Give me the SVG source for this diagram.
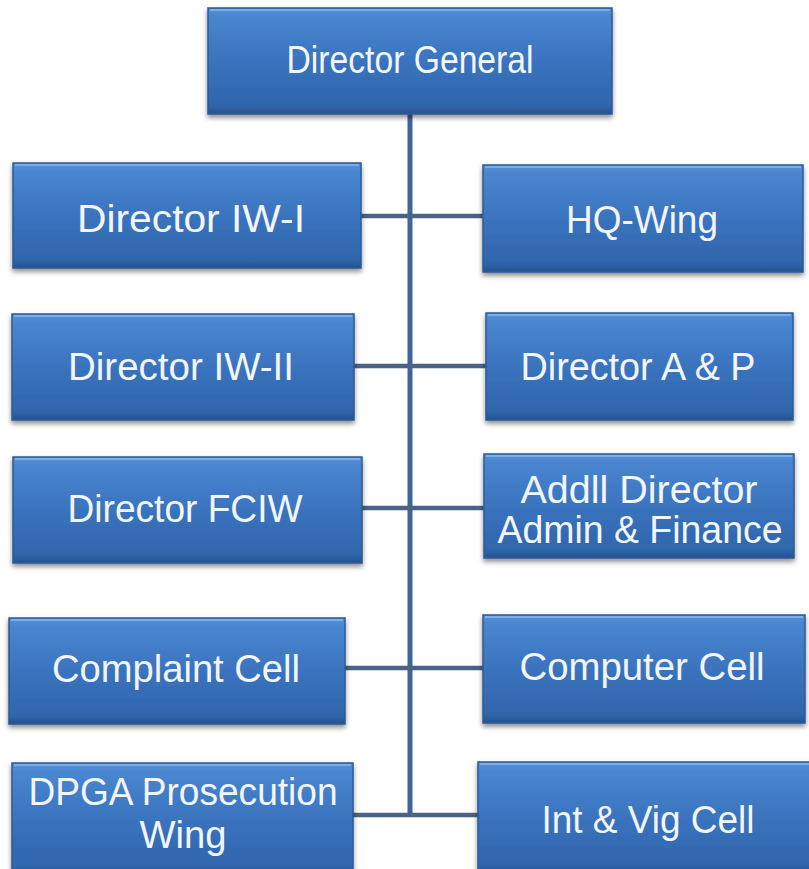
<svg xmlns="http://www.w3.org/2000/svg" width="809" height="869" viewBox="0 0 809 869">
<defs>
<linearGradient id="fill" x1="0" y1="0" x2="0" y2="1">
<stop offset="0" stop-color="#5690d6"/>
<stop offset="0.08" stop-color="#4a86d0"/>
<stop offset="0.5" stop-color="#3a73be"/>
<stop offset="0.92" stop-color="#2f66ac"/>
<stop offset="1" stop-color="#24528f"/>
</linearGradient>
<filter id="shadow" x="-5%" y="-10%" width="110%" height="130%">
<feDropShadow dx="0" dy="3" stdDeviation="2.5" flood-color="#000" flood-opacity="0.45"/>
</filter>
</defs>
<style>
.box{fill:url(#fill);stroke:#2c5a96;stroke-width:1.5;filter:url(#shadow)}
.hl{fill:none;stroke:#86b6ec;stroke-width:2;opacity:0.8}
.lbl{font-family:"Liberation Sans",Arial,sans-serif;font-size:38px;fill:#f2f6fc;text-anchor:middle}
.conn{stroke:#3f6594;stroke-width:5;fill:none}
.connh{stroke:#4a6284;stroke-width:4.5;fill:none}
</style>
<rect width="809" height="869" fill="#ffffff"/>
<g id="connectors">
<line class="conn" x1="410" y1="112" x2="410" y2="817"/>
<line class="connh" x1="360" y1="216" x2="484" y2="216"/>
<line class="connh" x1="353" y1="366" x2="487" y2="366"/>
<line class="connh" x1="361" y1="508" x2="485" y2="508"/>
<line class="connh" x1="344" y1="668" x2="484" y2="668"/>
<line class="connh" x1="352" y1="815" x2="479" y2="815"/>
</g>
<g id="director-general">
<rect class="box" x="208" y="8" width="404" height="106"/>
<line class="hl" x1="210" y1="10" x2="610" y2="10"/>
<text class="lbl" x="410" y="73" font-size="33" textLength="247" lengthAdjust="spacingAndGlyphs">Director General</text>
</g>
<g id="director-iw-i">
<rect class="box" x="13" y="163" width="348" height="105"/>
<line class="hl" x1="15" y1="165" x2="359" y2="165"/>
<text class="lbl" x="191" y="232" textLength="228" lengthAdjust="spacingAndGlyphs">Director IW-I</text>
</g>
<g id="hq-wing">
<rect class="box" x="483" y="165" width="320" height="107"/>
<line class="hl" x1="485" y1="167" x2="801" y2="167"/>
<text class="lbl" x="642" y="233" textLength="152" lengthAdjust="spacingAndGlyphs">HQ-Wing</text>
</g>
<g id="director-iw-ii">
<rect class="box" x="12" y="314" width="342" height="106"/>
<line class="hl" x1="14" y1="316" x2="352" y2="316"/>
<text class="lbl" x="181" y="380" textLength="226" lengthAdjust="spacingAndGlyphs">Director IW-II</text>
</g>
<g id="director-a-p">
<rect class="box" x="486" y="313" width="307" height="107"/>
<line class="hl" x1="488" y1="315" x2="791" y2="315"/>
<text class="lbl" x="638" y="380" textLength="235" lengthAdjust="spacingAndGlyphs">Director A &amp; P</text>
</g>
<g id="director-fciw">
<rect class="box" x="13" y="457" width="349" height="106"/>
<line class="hl" x1="15" y1="459" x2="360" y2="459"/>
<text class="lbl" x="185" y="522" textLength="235" lengthAdjust="spacingAndGlyphs">Director FCIW</text>
</g>
<g id="addll-director">
<rect class="box" x="484" y="454" width="310" height="104"/>
<line class="hl" x1="486" y1="456" x2="792" y2="456"/>
<text class="lbl" x="639" y="503" textLength="237" lengthAdjust="spacingAndGlyphs">Addll Director</text>
<text class="lbl" x="640" y="543" textLength="285" lengthAdjust="spacingAndGlyphs">Admin &amp; Finance</text>
</g>
<g id="complaint-cell">
<rect class="box" x="9" y="618" width="336" height="106"/>
<line class="hl" x1="11" y1="620" x2="343" y2="620"/>
<text class="lbl" x="176" y="682" textLength="248" lengthAdjust="spacingAndGlyphs">Complaint Cell</text>
</g>
<g id="computer-cell">
<rect class="box" x="483" y="615" width="322" height="108"/>
<line class="hl" x1="485" y1="617" x2="803" y2="617"/>
<text class="lbl" x="642" y="680" textLength="245" lengthAdjust="spacingAndGlyphs">Computer Cell</text>
</g>
<g id="dpga-prosecution-wing">
<rect class="box" x="12" y="763" width="341" height="112"/>
<line class="hl" x1="14" y1="765" x2="351" y2="765"/>
<text class="lbl" x="183" y="805" textLength="309" lengthAdjust="spacingAndGlyphs">DPGA Prosecution</text>
<text class="lbl" x="183" y="848" textLength="87" lengthAdjust="spacingAndGlyphs">Wing</text>
</g>
<g id="int-vig-cell">
<rect class="box" x="478" y="762" width="340" height="112"/>
<line class="hl" x1="480" y1="764" x2="809" y2="764"/>
<text class="lbl" x="648" y="833" textLength="213" lengthAdjust="spacingAndGlyphs">Int &amp; Vig Cell</text>
</g>
</svg>
